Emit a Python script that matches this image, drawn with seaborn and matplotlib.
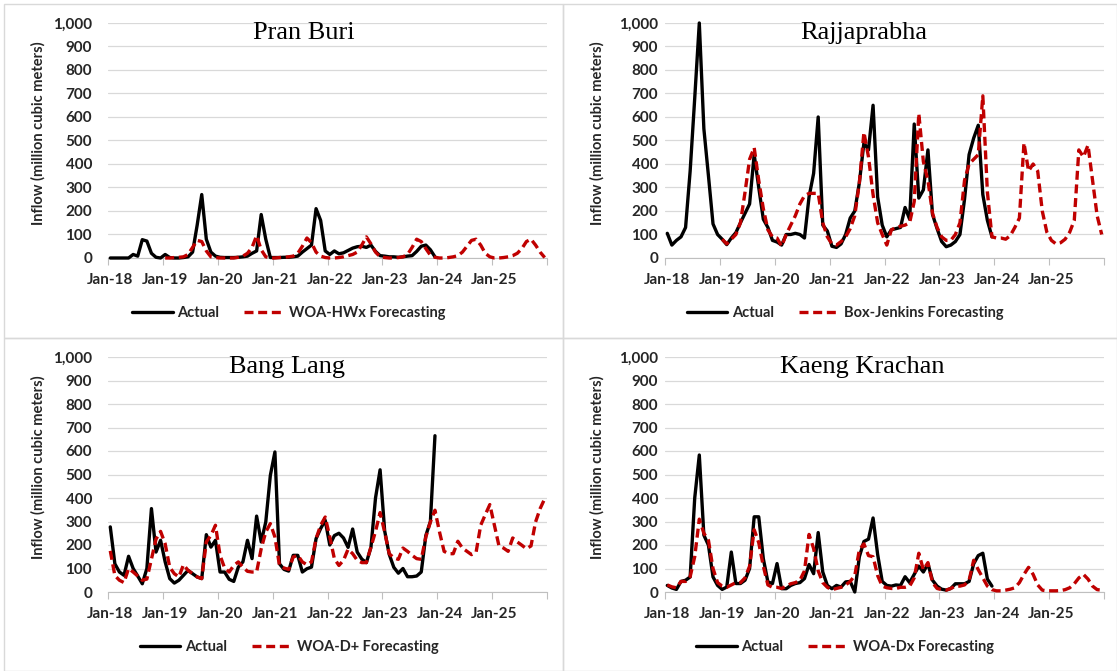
import numpy as np
import matplotlib
matplotlib.use("Agg")
import matplotlib.pyplot as plt
import seaborn as sns
from matplotlib.patches import Rectangle

# ---- data (monthly, Jan-18 .. Dec-25) ----
year_labels = ["Jan-18", "Jan-19", "Jan-20", "Jan-21", "Jan-22", "Jan-23", "Jan-24", "Jan-25"]
y_ticks = [0, 100, 200, 300, 400, 500, 600, 700, 800, 900, 1000]

pran_buri_actual = [0, 0, 0, 0, 0, 15, 8, 78, 72, 20, 3, 0,
                    15, 2, 0, 0, 2, 5, 25, 140, 270, 80, 25, 8,
                    3, 2, 2, 2, 3, 5, 8, 20, 30, 185, 80, 2,
                    2, 2, 3, 3, 5, 8, 25, 40, 55, 210, 160, 30,
                    15, 30, 18, 22, 32, 42, 48, 50, 45, 55, 28, 10,
                    8, 5, 5, 3, 5, 8, 10, 28, 50, 55, 35, 5]
pran_buri_fc_start = 12
pran_buri_fc = [0, 0, 2, 3, 5, 15, 45, 75, 70, 30, 5, 2,
                0, 0, 0, 0, 3, 8, 20, 45, 95, 35, 5, 0,
                0, 2, 3, 5, 8, 20, 50, 85, 65, 25, 8, 2,
                0, 0, 2, 5, 10, 15, 25, 55, 90, 60, 25, 5,
                2, 0, 0, 2, 5, 15, 45, 80, 70, 40, 12, 3,
                0, 0, 2, 5, 10, 25, 50, 75, 80, 55, 20, 5,
                0, 0, 2, 5, 10, 20, 40, 70, 80, 55, 25, 2]

rajja_actual = [105, 55, 75, 90, 130, 370, 680, 1000, 550, 350, 145, 100,
                80, 57, 85, 108, 150, 190, 230, 440, 300, 165, 130, 75,
                68, 55, 100, 100, 105, 100, 85, 260, 360, 600, 140, 115,
                50, 45, 60, 100, 170, 200, 320, 490, 460, 650, 260, 140,
                90, 120, 125, 130, 215, 165, 570, 255, 290, 460, 185, 125,
                70, 48, 55, 70, 100, 250, 440, 510, 565, 270, 160, 90]
rajja_fc_start = 12
rajja_fc = [80, 60, 80, 100, 150, 280, 420, 470, 330, 210, 120, 90,
            85, 50, 100, 140, 180, 230, 265, 275, 275, 275, 150, 90,
            60, 55, 70, 90, 125, 180, 320, 535, 430, 270, 150, 100,
            55, 120, 130, 135, 140, 150, 240, 615, 410, 330, 190, 130,
            90, 75, 75, 100, 150, 330, 400, 420, 440, 690, 280, 90,
            85, 85, 80, 95, 130, 170, 490, 370, 400, 370, 200, 110,
            75, 60, 65, 80, 110, 160, 460, 430, 480, 330, 180, 100]

bang_lang_actual = [277, 120, 85, 71, 152, 100, 68, 35, 100, 355, 170, 220,
                    128, 57, 38, 50, 71, 92, 78, 64, 57, 244, 191, 220,
                    85, 85, 54, 45, 106, 128, 220, 142, 323, 213, 298, 496,
                    596, 120, 96, 89, 156, 156, 85, 99, 106, 227, 270, 305,
                    200, 240, 250, 230, 190, 268, 170, 140, 125, 190, 400, 520,
                    260, 160, 105, 80, 100, 65, 65, 68, 85, 240, 300, 665]
bang_lang_fc_start = 0
bang_lang_fc = [175, 70, 50, 40, 100, 85, 68, 50, 55, 140, 225, 258,
                205, 105, 78, 64, 116, 92, 78, 64, 57, 213, 241, 284,
                156, 102, 85, 113, 128, 106, 88, 85, 85, 184, 255, 291,
                234, 113, 102, 96, 149, 156, 128, 116, 128, 227, 284, 319,
                234, 142, 113, 135, 182, 163, 135, 125, 125, 191, 258, 338,
                255, 163, 145, 139, 187, 173, 156, 142, 139, 234, 298, 348,
                255, 173, 163, 163, 216, 187, 173, 159, 170, 284, 329, 372,
                284, 196, 187, 173, 230, 213, 199, 184, 196, 298, 355, 397]

kaeng_actual = [28, 17, 11, 45, 50, 64, 400, 583, 242, 199, 64, 28,
                11, 21, 170, 36, 36, 50, 100, 320, 320, 142, 43, 36,
                121, 14, 14, 28, 36, 40, 57, 117, 78, 253, 85, 28,
                14, 28, 21, 43, 45, 0, 150, 215, 225, 315, 160, 45,
                28, 25, 30, 28, 65, 40, 75, 110, 85, 120, 50, 25,
                12, 8, 15, 35, 35, 35, 45, 120, 155, 165, 55, 25]
kaeng_fc_start = 0
kaeng_fc = [30, 22, 18, 45, 45, 65, 150, 310, 250, 220, 100, 40,
            25, 20, 30, 40, 40, 60, 110, 265, 210, 110, 30, 20,
            20, 15, 25, 35, 40, 50, 90, 245, 185, 90, 40, 20,
            10, 15, 20, 30, 45, 70, 180, 205, 155, 150, 70, 25,
            18, 15, 15, 20, 20, 25, 60, 165, 95, 125, 40, 15,
            10, 8, 15, 25, 25, 30, 50, 135, 95, 60, 25, 10,
            5, 5, 8, 12, 18, 40, 75, 105, 75, 30, 8, 5,
            5, 5, 6, 10, 18, 35, 60, 75, 55, 25, 10, 8]

W, H = 1117, 671
fx = lambda x: x / W
fy = lambda y: 1 - y / H

sns.set_theme(style="white")
plt.rcParams["font.family"] = ["Lato", "DejaVu Sans"]

fig = plt.figure(figsize=(W / 100, H / 100), dpi=100)

# chart-area frames
for (x0, y0, x1, y1) in [(4, 4, 563.5, 337.5), (563.5, 4, 1116.5, 337.5),
                         (4, 337.5, 563.5, 670.5), (563.5, 337.5, 1116.5, 670.5)]:
    fig.add_artist(Rectangle((fx(x0), fy(y1)), fx(x1) - fx(x0), fy(y0) - fy(y1),
                             transform=fig.transFigure, fill=False,
                             edgecolor="#D9D9D9", lw=1.0))

panels = [
    ("Pran Buri", pran_buri_actual, pran_buri_fc, pran_buri_fc_start, "WOA-HWx Forecasting",
     108, 23, 304, 38, 289, 11.5),
    ("Rajjaprabha", rajja_actual, rajja_fc, rajja_fc_start, "Box-Jenkins Forecasting",
     665, 23, 864, 597, 845, 5),
    ("Bang Lang", bang_lang_actual, bang_lang_fc, bang_lang_fc_start, "WOA-D+ Forecasting",
     108, 357, 287, 38, 289, 11.5),
    ("Kaeng Krachan", kaeng_actual, kaeng_fc, kaeng_fc_start, "WOA-Dx Forecasting",
     665, 357, 862, 597, 845, 5),
]

red = "#C00000"
for (title, actual, fc, fc_start, fc_label, px, py, tx, ylx, lgx, ypad) in panels:
    ax = fig.add_axes([fx(px), fy(py + 235), 439 / W, 235 / H])
    xa = np.arange(len(actual)) + 0.5
    xf = np.arange(len(fc)) + fc_start + 0.5
    sns.lineplot(x=xa, y=actual, ax=ax, color="black", lw=2.4, label="Actual",
                 legend=False, clip_on=False, solid_joinstyle="round", zorder=3)
    sns.lineplot(x=xf, y=fc, ax=ax, color=red, lw=2.4, label=fc_label,
                 legend=False, clip_on=False, linestyle=(0, (2.7, 1.4)),
                 dash_joinstyle="round", zorder=4)
    if ax.get_legend() is not None:
        ax.get_legend().remove()

    ax.set_xlim(0, 96)
    ax.set_ylim(0, 1000)
    ax.set_yticks(y_ticks)
    ax.set_yticklabels([f"{v:,}" for v in y_ticks])
    ax.set_xticks(np.arange(len(year_labels)) * 12 + 0.5)
    ax.set_xticklabels(year_labels)
    ax.set_xticks(np.arange(9) * 12, minor=True)
    ax.tick_params(axis="x", which="major", length=0, pad=10.5, labelsize=11)
    ax.tick_params(axis="x", which="minor", length=5, width=0.8, color="#BFBFBF",
                   direction="out", bottom=True)
    ax.tick_params(axis="y", length=0, pad=ypad, labelsize=11)
    for lab in ax.get_xticklabels() + ax.get_yticklabels():
        lab.set_fontweight("bold")
        lab.set_color("#262626")
    ax.set_xlabel("")
    ax.set_ylabel("")
    ax.yaxis.grid(True, color="#D9D9D9", lw=0.9)
    ax.set_axisbelow(True)
    for s in ["top", "left", "right"]:
        ax.spines[s].set_visible(False)
    ax.spines["bottom"].set_color("#BFBFBF")
    ax.spines["bottom"].set_linewidth(0.8)

    fig.text(fx(tx), fy(py + 16), title, family="Liberation Serif", fontsize=19,
             ha="center", va="baseline", color="black")
    fig.text(fx(ylx), fy(py + 110), "Inflow (million cubic meters)", rotation=90,
             ha="center", va="center", fontsize=10.5, fontweight="bold",
             color="#262626")
    handles = ax.get_lines()[:2]
    leg = fig.legend(handles, ["Actual", fc_label], loc="center",
                     bbox_to_anchor=(fx(lgx), fy(py + 290)), ncol=2, frameon=False,
                     fontsize=10.5, handlelength=2.8, handletextpad=0.3,
                     columnspacing=1.7)
    for t in leg.get_texts():
        t.set_fontweight("bold")
        t.set_color("#262626")

fig.savefig("out.png", dpi=100)
